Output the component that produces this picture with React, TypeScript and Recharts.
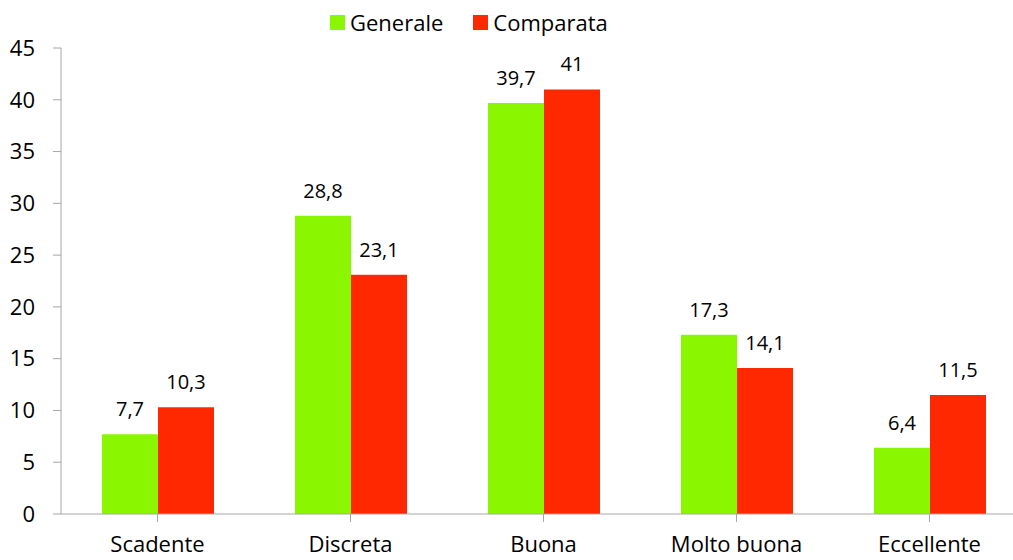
import React from 'react';
import { BarChart, Bar, XAxis, YAxis, LabelList } from 'recharts';

const categories = ['Scadente', 'Discreta', 'Buona', 'Molto buona', 'Eccellente'];
const generale = [7.7, 28.8, 39.7, 17.3, 6.4];
const comparata = [10.3, 23.1, 41, 14.1, 11.5];
const yTicks = [0, 5, 10, 15, 20, 25, 30, 35, 40, 45];

const data = categories.map((c, i) => ({ name: c, Generale: generale[i], Comparata: comparata[i] }));

const GREEN = '#8AF700';
const RED = '#FF2800';
const AXIS = '#A6A6A6';
const FONT = '"Open Sans", sans-serif';

const fmt = (v: any) => String(v).replace('.', ',');

export default function App() {
  return (
    <div style={{ position: 'absolute', left: 0, top: 0, width: 1013, height: 560, overflow: 'hidden', background: '#fff' }}>
      <div style={{ position: 'absolute', left: 330, top: 7, display: 'flex', alignItems: 'center', fontFamily: FONT, fontSize: 22, color: '#000', lineHeight: '30px', zIndex: 2 }}>
        <span style={{ width: 15, height: 15, background: GREEN, display: 'inline-block', marginRight: 5 }} />
        <span style={{ marginRight: 30 }}>Generale</span>
        <span style={{ width: 15, height: 15, background: RED, display: 'inline-block', marginRight: 5 }} />
        <span>Comparata</span>
      </div>
      <BarChart
        width={1040}
        height={560}
        data={data}
        margin={{ top: 48, right: 14, bottom: 0, left: 0 }}
        barGap={0}
        barCategoryGap={41}
      >
        <XAxis
          dataKey="name"
          height={46}
          stroke={AXIS}
          tickSize={8}
          tickMargin={14}
          interval={0}
          tick={{ fill: '#000', fontSize: 22, fontFamily: FONT }}
        />
        <YAxis
          width={61}
          domain={[0, 45]}
          ticks={yTicks}
          interval={0}
          stroke={AXIS}
          tickSize={8}
          tickMargin={18}
          tick={{ fill: '#000', fontSize: 22, fontFamily: FONT }}
        />
        <Bar dataKey="Generale" fill={GREEN} isAnimationActive={false}>
          <LabelList dataKey="Generale" position="top" offset={18} formatter={fmt} style={{ fill: '#000', fontSize: 20, fontFamily: FONT }} />
        </Bar>
        <Bar dataKey="Comparata" fill={RED} isAnimationActive={false}>
          <LabelList dataKey="Comparata" position="top" offset={18} formatter={fmt} style={{ fill: '#000', fontSize: 20, fontFamily: FONT }} />
        </Bar>
      </BarChart>
    </div>
  );
}
